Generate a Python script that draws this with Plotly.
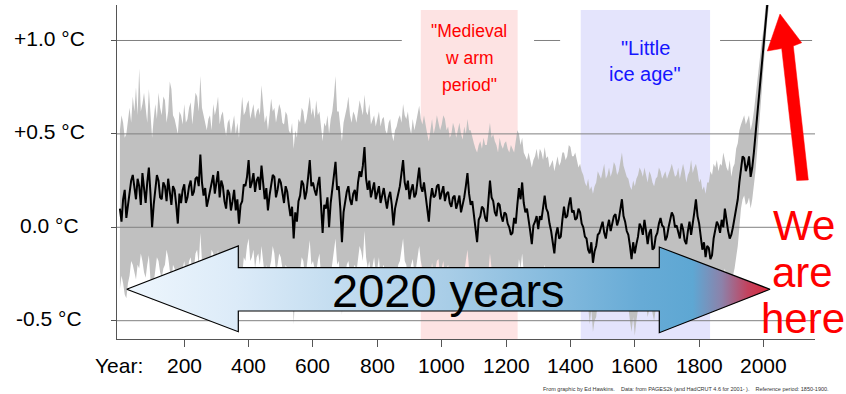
import plotly.graph_objects as go

# ---------------- data (5-year steps) ----------------
YEARS = list(range(0, 2021, 5))

MEDIAN = [
    0.10, 0.03, 0.15, 0.20, 0.05, 0.12, 0.19, 0.25, 0.28, 0.20, 0.15, 0.26, 0.22, 0.12, 0.29, 0.21, 0.13, 0.24, 0.32, 0.18,
    0.00, 0.12, 0.19, 0.28, 0.25, 0.16, 0.15, 0.24, 0.22, 0.14, 0.26, 0.19, 0.12, 0.22, 0.20, 0.12, 0.02, 0.18, 0.13, 0.20,
    0.23, 0.13, 0.16, 0.22, 0.25, 0.17, 0.19, 0.26, 0.27, 0.22, 0.39, 0.24, 0.17, 0.21, 0.11, 0.15, 0.19, 0.24, 0.28, 0.18,
    0.24, 0.30, 0.16, 0.25, 0.22, 0.14, 0.10, 0.20, 0.18, 0.09, 0.14, 0.20, 0.09, 0.15, 0.02, 0.12, 0.14, 0.23, 0.22, 0.27,
    0.36, 0.21, 0.24, 0.29, 0.19, 0.25, 0.27, 0.20, 0.33, 0.22, 0.15, 0.21, 0.09, 0.17, 0.22, 0.28, 0.27, 0.16, 0.20, 0.26,
    0.24, 0.17, 0.13, 0.22, 0.19, 0.12, 0.06, 0.11, -0.06, 0.08, 0.03, 0.14, 0.17, 0.25, 0.23, 0.15, 0.19, 0.27, 0.36, 0.22,
    0.24, 0.20, 0.17, 0.23, 0.27, 0.12, -0.03, 0.12, 0.10, 0.16, 0.00, 0.13, 0.21, 0.27, 0.35, 0.20, 0.22, 0.10, -0.08, 0.08,
    0.14, 0.19, 0.22, 0.15, 0.12, 0.18, 0.20, 0.14, 0.24, 0.30, 0.27, 0.33, 0.43, 0.26, 0.20, 0.25, 0.16, 0.21, 0.24, 0.15,
    0.18, 0.22, 0.13, 0.18, 0.21, 0.15, 0.10, 0.16, 0.19, 0.12, 0.01, 0.10, 0.14, 0.19, 0.22, 0.29, 0.36, 0.24, 0.20, 0.25,
    0.15, 0.20, 0.23, 0.16, 0.18, 0.25, 0.32, 0.22, 0.19, 0.24, 0.17, 0.10, 0.03, 0.15, 0.21, 0.16, 0.17, 0.22, 0.23, 0.15,
    0.18, 0.22, 0.14, 0.18, 0.19, 0.13, 0.11, 0.16, 0.17, 0.10, 0.13, 0.17, 0.08, 0.12, 0.16, 0.22, 0.29, 0.18, 0.12, 0.14,
    0.07, 0.02, -0.08, 0.04, 0.06, 0.11, 0.10, 0.05, 0.03, 0.14, 0.25, 0.16, 0.14, 0.08, 0.06, 0.13, 0.12, 0.06, 0.03, 0.08,
    0.07, 0.02, 0.00, -0.04, -0.03, 0.05, 0.02, 0.12, 0.21, 0.15, 0.24, 0.13, 0.08, 0.10, 0.05, -0.02, -0.09, 0.01, 0.03, 0.06,
    -0.01, 0.06, 0.04, 0.12, 0.17, 0.10, 0.08, 0.02, -0.02, -0.08, -0.14, -0.04, 0.00, -0.06, -0.05, 0.04, 0.11, 0.05, 0.06, 0.12,
    0.16, 0.08, 0.09, 0.04, 0.05, 0.10, 0.08, 0.02, 0.00, -0.05, -0.06, -0.12, -0.14, -0.08, -0.19, -0.13, -0.10, -0.04, -0.03, 0.00,
    0.03, -0.03, -0.06, 0.00, 0.04, -0.02, 0.02, 0.06, 0.07, 0.01, 0.04, 0.10, 0.15, 0.06, 0.03, -0.02, -0.04, -0.10, -0.17, -0.08,
    -0.14, -0.09, -0.05, 0.02, 0.00, -0.04, 0.04, -0.02, -0.09, -0.03, -0.01, -0.12, -0.11, -0.05, -0.03, 0.02, 0.05, 0.01, 0.00, -0.07,
    -0.05, 0.00, 0.04, 0.08, 0.06, 0.00, 0.01, -0.03, -0.06, 0.02, -0.01, -0.07, -0.09, -0.02, 0.03, -0.04, 0.01, 0.08, 0.15, 0.06,
    0.02, -0.05, -0.12, -0.08, -0.16, -0.10, -0.11, -0.17, -0.15, -0.06, -0.02, 0.03, 0.01, -0.03, 0.04, 0.00, 0.10, 0.03, -0.02, -0.06,
    -0.04, 0.00, 0.05, 0.10, 0.15, 0.24, 0.30, 0.38, 0.37, 0.30, 0.33, 0.38, 0.27, 0.32, 0.40, 0.50, 0.60, 0.70, 0.80, 0.88,
    0.97, 1.08, 1.20, 1.28, 1.35,
]

UPPER = [
    0.52, 0.60, 0.56, 0.48, 0.50, 0.58, 0.64, 0.56, 0.70, 0.62, 0.75, 0.60, 0.85, 0.62, 0.66, 0.72, 0.62, 0.56, 0.74, 0.58,
    0.48, 0.58, 0.66, 0.58, 0.72, 0.64, 0.60, 0.70, 0.68, 0.56, 0.62, 0.78, 0.74, 0.60, 0.58, 0.54, 0.50, 0.62, 0.60, 0.55,
    0.66, 0.56, 0.58, 0.64, 0.67, 0.55, 0.62, 0.72, 0.70, 0.62, 0.81, 0.64, 0.60, 0.55, 0.52, 0.58, 0.60, 0.52, 0.66, 0.60,
    0.64, 0.70, 0.55, 0.60, 0.62, 0.54, 0.49, 0.56, 0.58, 0.50, 0.55, 0.60, 0.50, 0.56, 0.48, 0.58, 0.70, 0.60, 0.62, 0.66,
    0.68, 0.58, 0.63, 0.66, 0.58, 0.62, 0.64, 0.60, 0.76, 0.64, 0.56, 0.60, 0.52, 0.60, 0.69, 0.62, 0.64, 0.56, 0.62, 0.66,
    0.63, 0.56, 0.55, 0.62, 0.60, 0.52, 0.50, 0.56, 0.42, 0.52, 0.48, 0.58, 0.56, 0.64, 0.62, 0.55, 0.58, 0.64, 0.70, 0.60,
    0.64, 0.58, 0.68, 0.60, 0.62, 0.54, 0.46, 0.56, 0.54, 0.60, 0.50, 0.58, 0.62, 0.70, 0.81, 0.62, 0.62, 0.54, 0.46, 0.56,
    0.60, 0.64, 0.70, 0.60, 0.56, 0.62, 0.60, 0.56, 0.62, 0.68, 0.64, 0.60, 0.71, 0.62, 0.60, 0.66, 0.55, 0.58, 0.60, 0.54,
    0.58, 0.62, 0.54, 0.58, 0.59, 0.52, 0.50, 0.56, 0.58, 0.50, 0.46, 0.52, 0.54, 0.58, 0.60, 0.56, 0.66, 0.60, 0.58, 0.62,
    0.54, 0.50, 0.58, 0.52, 0.56, 0.60, 0.65, 0.58, 0.55, 0.60, 0.54, 0.50, 0.46, 0.52, 0.58, 0.50, 0.54, 0.60, 0.56, 0.52,
    0.55, 0.60, 0.58, 0.52, 0.54, 0.48, 0.50, 0.56, 0.53, 0.48, 0.52, 0.56, 0.50, 0.47, 0.54, 0.50, 0.58, 0.52, 0.52, 0.48,
    0.45, 0.42, 0.40, 0.44, 0.46, 0.42, 0.48, 0.44, 0.44, 0.50, 0.56, 0.48, 0.50, 0.46, 0.44, 0.40, 0.48, 0.44, 0.42, 0.45,
    0.46, 0.42, 0.40, 0.44, 0.42, 0.40, 0.46, 0.52, 0.50, 0.44, 0.48, 0.40, 0.38, 0.36, 0.40, 0.35, 0.32, 0.36, 0.38, 0.42,
    0.36, 0.42, 0.40, 0.36, 0.43, 0.37, 0.38, 0.32, 0.34, 0.36, 0.30, 0.34, 0.38, 0.33, 0.35, 0.40, 0.40, 0.36, 0.38, 0.44,
    0.43, 0.38, 0.38, 0.40, 0.36, 0.32, 0.34, 0.30, 0.28, 0.24, 0.22, 0.26, 0.20, 0.22, 0.18, 0.22, 0.24, 0.30, 0.28, 0.26,
    0.30, 0.34, 0.26, 0.28, 0.32, 0.27, 0.30, 0.35, 0.33, 0.28, 0.30, 0.36, 0.40, 0.33, 0.30, 0.27, 0.26, 0.22, 0.20, 0.25,
    0.22, 0.26, 0.28, 0.32, 0.30, 0.27, 0.32, 0.28, 0.24, 0.30, 0.28, 0.24, 0.22, 0.26, 0.27, 0.32, 0.30, 0.26, 0.28, 0.30,
    0.26, 0.28, 0.31, 0.34, 0.30, 0.27, 0.28, 0.32, 0.26, 0.30, 0.34, 0.30, 0.24, 0.28, 0.30, 0.36, 0.29, 0.32, 0.34, 0.30,
    0.24, 0.26, 0.20, 0.22, 0.18, 0.24, 0.24, 0.30, 0.28, 0.34, 0.32, 0.36, 0.30, 0.34, 0.33, 0.40, 0.36, 0.32, 0.30, 0.36,
    0.27, 0.32, 0.34, 0.42, 0.45, 0.52, 0.55, 0.58, 0.60, 0.55, 0.57, 0.60, 0.52, 0.56, 0.62, 0.70, 0.78, 0.86, 0.93, 1.00,
    1.06, 1.18, 1.30, 1.38, 1.45,
]

LOWER = [
    -0.33, -0.26, -0.30, -0.36, -0.38, -0.30, -0.26, -0.18, -0.20, -0.25, -0.28, -0.20, -0.22, -0.14, -0.18, -0.24, -0.27, -0.20, -0.15, -0.28,
    -0.40, -0.30, -0.24, -0.16, -0.18, -0.24, -0.27, -0.22, -0.20, -0.12, -0.16, -0.24, -0.30, -0.20, -0.22, -0.30, -0.40, -0.30, -0.28, -0.22,
    -0.18, -0.26, -0.24, -0.18, -0.16, -0.24, -0.22, -0.14, -0.12, -0.20, -0.03, -0.18, -0.24, -0.28, -0.30, -0.22, -0.22, -0.12, -0.14, -0.22,
    -0.18, -0.12, -0.26, -0.20, -0.20, -0.28, -0.30, -0.22, -0.22, -0.30, -0.26, -0.20, -0.32, -0.26, -0.40, -0.30, -0.26, -0.16, -0.18, -0.10,
    -0.06, -0.18, -0.16, -0.12, -0.22, -0.16, -0.14, -0.20, -0.10, -0.18, -0.26, -0.20, -0.32, -0.22, -0.18, -0.10, -0.14, -0.24, -0.20, -0.14,
    -0.16, -0.22, -0.28, -0.20, -0.22, -0.30, -0.36, -0.28, -0.52, -0.34, -0.42, -0.30, -0.24, -0.16, -0.18, -0.26, -0.22, -0.14, -0.07, -0.20,
    -0.18, -0.22, -0.24, -0.18, -0.14, -0.26, -0.40, -0.28, -0.30, -0.22, -0.38, -0.26, -0.20, -0.12, -0.06, -0.20, -0.18, -0.30, -0.47, -0.30,
    -0.26, -0.20, -0.18, -0.24, -0.28, -0.22, -0.20, -0.24, -0.16, -0.10, -0.13, -0.18, -0.02, -0.16, -0.22, -0.18, -0.26, -0.20, -0.16, -0.24,
    -0.22, -0.16, -0.28, -0.22, -0.20, -0.26, -0.30, -0.24, -0.22, -0.30, -0.40, -0.30, -0.26, -0.20, -0.18, -0.12, -0.06, -0.18, -0.20, -0.28,
    -0.25, -0.20, -0.17, -0.24, -0.22, -0.16, -0.10, -0.18, -0.22, -0.28, -0.24, -0.32, -0.38, -0.26, -0.19, -0.25, -0.23, -0.18, -0.17, -0.26,
    -0.22, -0.18, -0.26, -0.22, -0.20, -0.26, -0.29, -0.24, -0.23, -0.30, -0.27, -0.24, -0.32, -0.26, -0.24, -0.18, -0.12, -0.22, -0.28, -0.24,
    -0.32, -0.36, -0.42, -0.34, -0.32, -0.26, -0.28, -0.34, -0.34, -0.24, -0.14, -0.22, -0.24, -0.30, -0.32, -0.26, -0.26, -0.32, -0.35, -0.28,
    -0.30, -0.34, -0.38, -0.32, -0.40, -0.36, -0.35, -0.26, -0.17, -0.22, -0.14, -0.24, -0.30, -0.26, -0.33, -0.38, -0.42, -0.34, -0.35, -0.30,
    -0.38, -0.30, -0.33, -0.26, -0.20, -0.26, -0.30, -0.36, -0.40, -0.36, -0.44, -0.40, -0.38, -0.34, -0.43, -0.34, -0.27, -0.30, -0.32, -0.26,
    -0.22, -0.28, -0.30, -0.26, -0.33, -0.28, -0.30, -0.36, -0.38, -0.40, -0.45, -0.42, -0.52, -0.44, -0.56, -0.50, -0.48, -0.40, -0.42, -0.38,
    -0.36, -0.40, -0.45, -0.38, -0.35, -0.40, -0.37, -0.30, -0.32, -0.38, -0.35, -0.30, -0.24, -0.32, -0.36, -0.42, -0.43, -0.50, -0.56, -0.48,
    -0.58, -0.50, -0.44, -0.38, -0.39, -0.34, -0.35, -0.42, -0.48, -0.44, -0.40, -0.46, -0.50, -0.44, -0.42, -0.36, -0.34, -0.40, -0.39, -0.42,
    -0.44, -0.38, -0.35, -0.32, -0.33, -0.38, -0.38, -0.42, -0.45, -0.38, -0.40, -0.46, -0.48, -0.40, -0.36, -0.40, -0.38, -0.30, -0.24, -0.32,
    -0.37, -0.40, -0.44, -0.42, -0.45, -0.40, -0.43, -0.45, -0.44, -0.38, -0.36, -0.30, -0.32, -0.34, -0.28, -0.26, -0.22, -0.28, -0.32, -0.30,
    -0.30, -0.26, -0.22, -0.16, -0.10, 0.00, 0.10, 0.15, 0.17, 0.12, 0.13, 0.16, 0.10, 0.15, 0.22, 0.30, 0.40, 0.50, 0.62, 0.74,
    0.86, 0.98, 1.08, 1.16, 1.25,
]

Y_TICKS = [-0.5, 0.0, 0.5, 1.0]
Y_TICK_TEXT = ["-0.5 °C", "0.0 °C", "+0.5 °C", "+1.0 °C"]
X_TICKS = [200, 400, 600, 800, 1000, 1200, 1400, 1600, 1800, 2000]

PERIOD_NAMES = ["Medieval warm period", "Little ice age"]
PERIOD_START = [935, 1432]
PERIOD_END = [1236, 1834]
PERIOD_LINES = [['"Medieval', "w arm", 'period"'], ['"Little', 'ice age"']]

CREDIT = ("From graphic by Ed Hawkins.\u00a0\u00a0\u00a0 Data: from PAGES2k (and HadCRUT 4.6 for 2001- )."
          "\u00a0\u00a0\u00a0 Reference period: 1850-1900.")

# ---------------- layout geometry (pixels) ----------------
W, H = 846, 394
PL, PR, PT, PB = 117, 815, 5, 339
X_RANGE = [-9, 2160]
Y_RANGE = [-0.598, 1.19]
FONT = "Liberation Sans, Arial, sans-serif"


def px(x):
    return x / W


def py(y):
    return 1 - y / H


fig = go.Figure()

# uncertainty band
fig.add_trace(go.Scatter(x=YEARS, y=LOWER, mode="lines", line=dict(width=0, color="#c0c0c0"),
                         showlegend=False, hoverinfo="skip"))
fig.add_trace(go.Scatter(x=YEARS, y=UPPER, mode="lines", line=dict(width=0, color="#c0c0c0"),
                         fill="tonexty", fillcolor="#c0c0c0", showlegend=False, hoverinfo="skip"))

# horizontal reference lines (drawn above the band)
GRID_SEGMENTS = [(-0.5, X_RANGE[0], X_RANGE[1]), (0.0, X_RANGE[0], X_RANGE[1]),
                 (0.5, X_RANGE[0], X_RANGE[1]),
                 (1.0, X_RANGE[0], 876), (1.0, 1287, 1368), (1.0, 1865, 2151)]
for yv, xa, xb in GRID_SEGMENTS:
    fig.add_trace(go.Scatter(x=[xa, xb], y=[yv, yv], mode="lines",
                             line=dict(width=1, color="#808080"),
                             showlegend=False, hoverinfo="skip"))

# median reconstruction
fig.add_trace(go.Scatter(x=YEARS, y=MEDIAN, mode="lines", line=dict(width=2, color="black"),
                         showlegend=False, hoverinfo="skip"))

# decorative arrows in pixel coordinates (overlay axes)
BX = [126.7, 238.3, 238.3, 659.3, 659.3, 770, 659.3, 659.3, 238.3, 238.3, 126.7]
BY = [289.3, 246, 267.7, 267.7, 247, 289.3, 332.7, 311, 311, 331.7, 289.3]
fig.add_trace(go.Scatter(
    x=BX, y=BY, xaxis="x2", yaxis="y2", mode="lines", fill="toself",
    line=dict(color="black", width=1.2),
    fillgradient=dict(type="horizontal", colorscale=[
        [0.0, "#eef6fd"], [0.17, "#dcebf8"], [0.5, "#a8cde7"], [0.8, "#67abd6"],
        [0.88, "#5ea7d3"], [0.925, "#8c82aa"], [0.965, "#c2435f"], [1.0, "#da2638"]]),
    showlegend=False, hoverinfo="skip"))

RX = [780, 801.7, 793.3, 808.3, 796.7, 781.7, 767.3, 780]
RY = [14, 42.7, 46, 180, 180.5, 48.5, 51, 14]
fig.add_trace(go.Scatter(x=RX, y=RY, xaxis="x2", yaxis="y2", mode="lines", fill="toself",
                         fillcolor="#ff0000", line=dict(color="#ff0000", width=0.5),
                         showlegend=False, hoverinfo="skip"))

# period shading
shapes = []
PERIOD_FILL = ["#fde3e3", "#e4e4fc"]
for s, e, c in zip(PERIOD_START, PERIOD_END, PERIOD_FILL):
    shapes.append(dict(type="rect", xref="x", yref="paper", x0=s, x1=e, y0=py(PB), y1=py(10),
                       fillcolor=c, line=dict(width=0), layer="below"))

annotations = []
# y tick labels
for v, t in zip(Y_TICKS, Y_TICK_TEXT):
    annotations.append(dict(x=px(49), xref="paper", y=v, yref="y", text=t, showarrow=False,
                            xanchor="center", yanchor="middle", yshift=2,
                            font=dict(size=21, color="black", family=FONT)))
# x tick labels
for v in X_TICKS:
    annotations.append(dict(x=v, xref="x", y=py(365), yref="paper", text=str(v), showarrow=False,
                            xanchor="center", yanchor="middle",
                            font=dict(size=21, color="black", family=FONT)))
annotations.append(dict(x=px(119), xref="paper", y=py(365), yref="paper", text="Year:",
                        showarrow=False, xanchor="center", yanchor="middle",
                        font=dict(size=21, color="black", family=FONT)))

# period labels
PERIOD_TEXT_Y = [[31.2, 57.9, 84.6], [47.9, 73.9]]
PERIOD_TEXT_SIZE = [17.5, 20]
PERIOD_TEXT_COLOR = ["#ff0000", "#1515ff"]
for lines, ys, s, e, size, col in zip(PERIOD_LINES, PERIOD_TEXT_Y, PERIOD_START, PERIOD_END,
                                      PERIOD_TEXT_SIZE, PERIOD_TEXT_COLOR):
    for line, yy in zip(lines, ys):
        annotations.append(dict(x=(s + e) / 2, xref="x", y=py(yy), yref="paper", text=line,
                                showarrow=False, xanchor="center", yanchor="middle",
                                font=dict(size=size, color=col, family=FONT)))

annotations.append(dict(x=px(448), xref="paper", y=py(290.4), yref="paper", text="2020 years",
                        showarrow=False, xanchor="center", yanchor="middle",
                        font=dict(size=47, color="black", family=FONT)))
for word, xx, yy in [("We", 804, 225.4), ("are", 802, 272), ("here", 802.5, 318.4)]:
    annotations.append(dict(x=px(xx), xref="paper", y=py(yy), yref="paper", text=word,
                            showarrow=False, xanchor="center", yanchor="middle",
                            font=dict(size=42, color="#ff0000", family=FONT)))
annotations.append(dict(x=px(686), xref="paper", y=py(389), yref="paper", text=CREDIT,
                        showarrow=False, xanchor="center", yanchor="middle",
                        font=dict(size=5.5, color="#333333", family=FONT)))

fig.update_layout(
    width=W, height=H,
    margin=dict(l=0, r=0, t=0, b=0),
    paper_bgcolor="white", plot_bgcolor="white",
    showlegend=False, hovermode=False,
    font=dict(family=FONT),
    xaxis=dict(domain=[px(PL), px(PR)], range=X_RANGE, showgrid=False, zeroline=False,
               showline=True, linecolor="#555555", linewidth=1.3,
               ticks="outside", ticklen=7, tickwidth=1.3, tickcolor="#555555",
               tickvals=X_TICKS, showticklabels=False, fixedrange=True),
    yaxis=dict(domain=[py(PB), py(PT)], range=Y_RANGE, showgrid=False, zeroline=False,
               showline=True, linecolor="#555555", linewidth=1.3,
               ticks="outside", ticklen=5, tickwidth=1.3, tickcolor="#555555",
               tickvals=Y_TICKS, showticklabels=False, fixedrange=True),
    xaxis2=dict(overlaying="x", anchor="y2", range=[PL, PR], visible=False, fixedrange=True),
    yaxis2=dict(overlaying="y", anchor="x2", range=[PB, PT], visible=False, fixedrange=True),
    shapes=shapes,
    annotations=annotations,
)

fig.write_html("out.html", config={"displayModeBar": False})
